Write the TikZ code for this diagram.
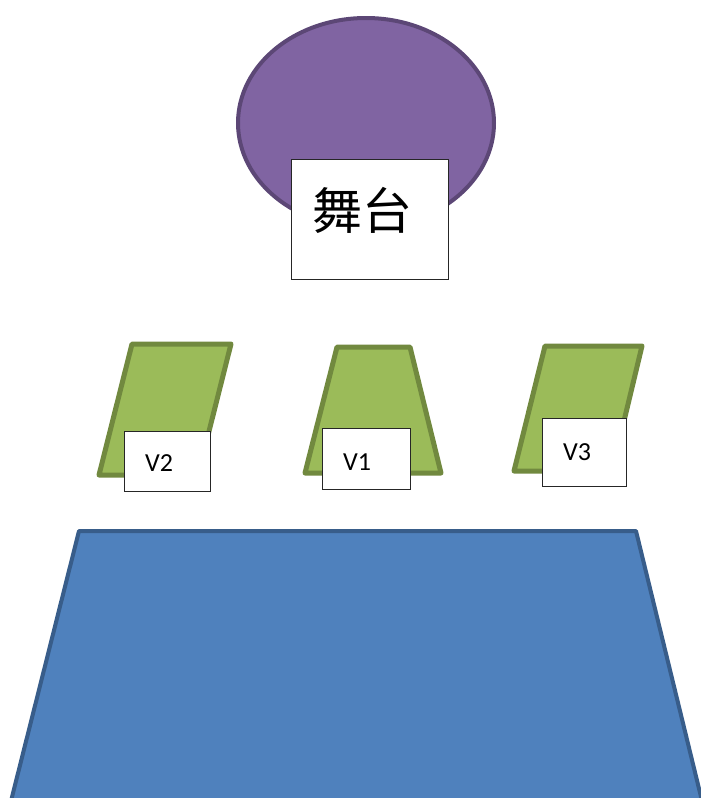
\documentclass[tikz,border=0pt]{standalone}
\usepackage{fontspec}
\setmainfont{Carlito}
\newfontfamily\cjk{Noto Sans CJK SC}
\definecolor{purpfill}{HTML}{8064A2}
\definecolor{purpline}{HTML}{5C4776}
\definecolor{grnfill}{HTML}{9BBB59}
\definecolor{grnline}{HTML}{71893F}
\definecolor{blufill}{HTML}{4F81BD}
\definecolor{bluline}{HTML}{385D8A}
\begin{document}
\begin{tikzpicture}[x=1pt,y=-1pt,
  labelbox/.style={draw=black!85,fill=white,line width=1pt},
  lbltext/.style={inner sep=0pt,font=\fontsize{26}{26}\selectfont},
  camshape/.style={draw=grnline,fill=grnfill,line width=5pt,line join=round},
]
\useasboundingbox (0,0) rectangle (701,798);
% audience area
\draw[draw=bluline,fill=blufill,line width=4pt,line join=round]
  (79,531) -- (636,531) -- (703,805) -- (10,805) -- cycle;
% stage
\draw[draw=purpline,fill=purpfill,line width=4pt] (366,123) ellipse [x radius=128, y radius=105];
\draw[labelbox] (291,159) rectangle (448,279);
\node[inner sep=0pt,font=\cjk\fontsize{50}{50}\selectfont] (stage) at (362,210) {舞台};
% cameras
\draw[camshape] (132,344) -- (231,344) -- (198,475) -- (99,475) -- cycle;
\draw[camshape] (337,347) -- (410,347) -- (441,473) -- (305,473) -- cycle;
\draw[camshape] (545,346) -- (642,346) -- (612,471) -- (514,471) -- cycle;
\draw[labelbox] (124,431) rectangle (210,491);
\draw[labelbox] (322,428) rectangle (410,489);
\draw[labelbox] (542,418) rectangle (626,486);
\node[lbltext] (v2) at (159,463) {V2};
\node[lbltext] (v1) at (357,462) {V1};
\node[lbltext] (v3) at (577,452) {V3};
\end{tikzpicture}
\end{document}
